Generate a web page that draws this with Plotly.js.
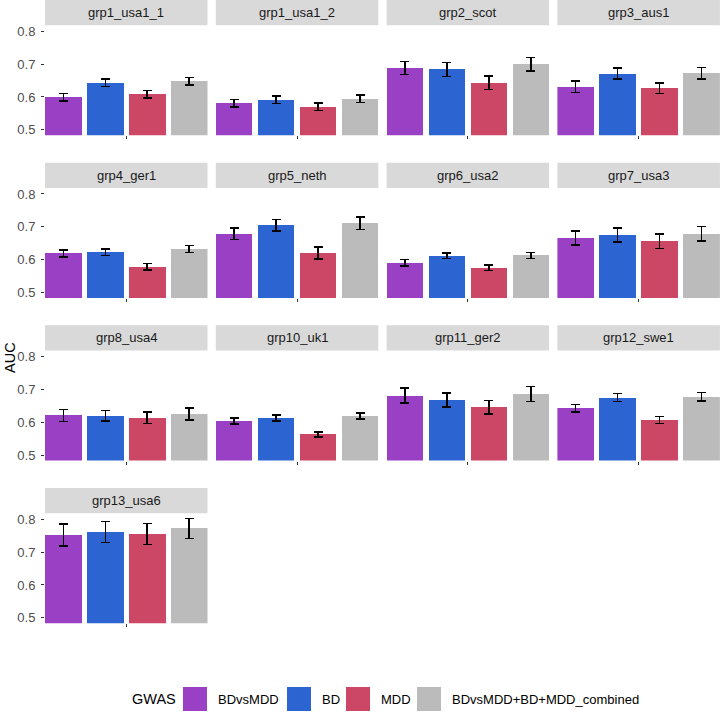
<!DOCTYPE html>
<html>
<head>
<meta charset="utf-8">
<script src="https://cdn.plot.ly/plotly-3.0.1.min.js"></script>
<style>html,body{margin:0;padding:0;background:#fff;}#chart{width:720px;height:712px;}</style>
</head>
<body>
<div id="chart"></div>
<script>
// ---- data ----
const panels = ['grp1_usa1_1','grp1_usa1_2','grp2_scot','grp3_aus1','grp4_ger1','grp5_neth','grp6_usa2','grp7_usa3','grp8_usa4','grp10_uk1','grp11_ger2','grp12_swe1','grp13_usa6'];
const seriesNames = ['BDvsMDD','BD','MDD','BDvsMDD+BD+MDD_combined'];
const bdvsmdd    = [0.599,0.581,0.688,0.631,0.619,0.679,0.591,0.666,0.621,0.604,0.681,0.643,0.752];
const bdvsmddErr = [0.0115,0.0115,0.020,0.017,0.0105,0.018,0.0095,0.0215,0.018,0.0085,0.023,0.0115,0.0335];
const bd         = [0.643,0.592,0.684,0.671,0.623,0.705,0.612,0.675,0.620,0.613,0.668,0.675,0.761];
const bdErr      = [0.0115,0.0115,0.0215,0.017,0.010,0.018,0.008,0.0215,0.0165,0.0085,0.0215,0.012,0.032];
const mdd        = [0.608,0.570,0.644,0.626,0.579,0.620,0.575,0.656,0.614,0.563,0.646,0.607,0.755];
const mddErr     = [0.011,0.011,0.0205,0.016,0.010,0.0185,0.0085,0.0215,0.0175,0.0075,0.0205,0.011,0.0325];
const combined   = [0.648,0.594,0.700,0.672,0.633,0.711,0.613,0.679,0.625,0.619,0.686,0.678,0.772];
const combinedErr= [0.011,0.0115,0.0205,0.017,0.0105,0.0185,0.009,0.0215,0.018,0.009,0.0225,0.0125,0.030];
const yTicks = [0.5,0.6,0.7,0.8];
const yTickText = ['0.5','0.6','0.7','0.8'];

// ---- styling ----
const colors = ['#9940C4','#2C64D1','#CC4666','#BBBBBB'];
const values = [bdvsmdd, bd, mdd, combined];
const errs = [bdvsmddErr, bdErr, mddErr, combinedErr];
const W = 720, H = 712;
const colLeft = [45, 215.8, 386.6, 557.4], colW = 162.5;
const rowTop = [0, 162.7, 325.3, 488], stripH = 25.3, panelH = 110;
const barW = 0.87;
const fx = px => px / W;
const fy = px => 1 - px / H;

const traces = [];
const layout = {
  width: W, height: H,
  margin: {l:0, r:0, t:0, b:0},
  paper_bgcolor: '#fff', plot_bgcolor: '#fff',
  showlegend: false,
  bargap: 0,
  font: {family: 'Liberation Sans, Arial, sans-serif', color: '#1A1A1A'},
  shapes: [], annotations: []
};

panels.forEach((name, i) => {
  const r = Math.floor(i / 4), c = i % 4;
  const x0 = colLeft[c], x1 = x0 + colW;
  const yTop = rowTop[r] + stripH, yBot = yTop + panelH;
  const sfx = i === 0 ? '' : String(i + 1);
  traces.push({
    type: 'bar',
    x: [0,1,2,3],
    y: values.map(v => v[i]),
    width: barW,
    marker: {color: colors, line: {width: 0}},
    error_y: {type: 'data', array: errs.map(e => e[i]), visible: true, color: '#000', thickness: 1.5, width: 4.5},
    xaxis: 'x' + sfx, yaxis: 'y' + sfx,
    hoverinfo: 'y'
  });
  layout['xaxis' + sfx] = {
    domain: [fx(x0), fx(x1)], anchor: 'y' + sfx,
    range: [-barW/2, 3 + barW/2], fixedrange: true,
    showgrid: false, zeroline: false, showline: false,
    tickvals: [1.5], ticktext: [''], ticks: 'outside', ticklen: 3, tickwidth: 1, tickcolor: '#333333'
  };
  layout['yaxis' + sfx] = {
    domain: [fy(yBot), fy(yTop)], anchor: 'x' + sfx,
    range: [0.4833, 0.8182], fixedrange: true,
    showgrid: false, zeroline: false, showline: false,
    tickvals: yTicks, ticktext: yTickText,
    showticklabels: c === 0,
    ticks: c === 0 ? 'outside' : '', ticklen: 3, tickwidth: 1, tickcolor: '#333333',
    ticklabelstandoff: 3,
    tickfont: {size: 13, color: '#4D4D4D', family: 'Liberation Sans, Arial, sans-serif'}
  };
  // strip
  layout.shapes.push({type: 'rect', xref: 'paper', yref: 'paper', x0: fx(x0), x1: fx(x1), y0: fy(rowTop[r] + stripH), y1: fy(rowTop[r]), fillcolor: '#D9D9D9', line: {width: 0}, layer: 'below'});
  layout.annotations.push({xref: 'paper', yref: 'paper', x: fx((x0 + x1) / 2), y: fy(rowTop[r] + stripH / 2), text: name, showarrow: false, xanchor: 'center', yanchor: 'middle', font: {size: 13, color: '#1A1A1A'}});
});

// y title
layout.annotations.push({xref: 'paper', yref: 'paper', x: fx(10), y: fy(358), text: 'AUC', textangle: -90, showarrow: false, xanchor: 'center', yanchor: 'middle', font: {size: 14.5, color: '#000'}});

// legend (manual)
const legKeyX = [183, 287, 346, 417], keySize = 24, legY = 687;
layout.annotations.push({xref: 'paper', yref: 'paper', x: fx(130), y: fy(legY + keySize / 2), text: 'GWAS', showarrow: false, xanchor: 'left', yanchor: 'middle', font: {size: 14.5, color: '#000'}});
seriesNames.forEach((s, k) => {
  layout.shapes.push({type: 'rect', xref: 'paper', yref: 'paper', x0: fx(legKeyX[k]), x1: fx(legKeyX[k] + keySize), y0: fy(legY + keySize), y1: fy(legY), fillcolor: colors[k], line: {width: 0}});
  layout.annotations.push({xref: 'paper', yref: 'paper', x: fx(legKeyX[k] + keySize + 9), y: fy(legY + keySize / 2), text: s, showarrow: false, xanchor: 'left', yanchor: 'middle', font: {size: 13, color: '#000'}});
});

Plotly.newPlot('chart', traces, layout, {staticPlot: true, displayModeBar: false});
</script>
</body>
</html>
